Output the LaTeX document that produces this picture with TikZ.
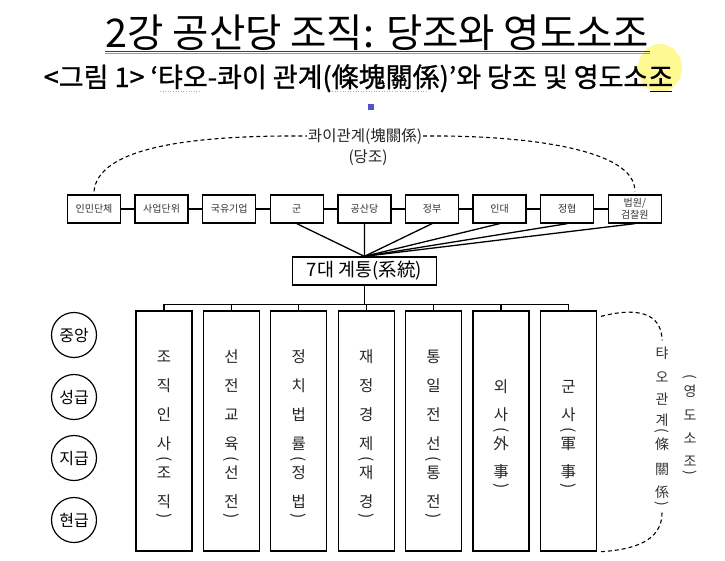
\documentclass[tikz,border=0pt]{standalone}
\usepackage{graphicx}
\usepackage{fontspec}
\setmainfont{Noto Sans CJK KR}
\newfontfamily\subfont[FakeBold=1]{Noto Sans CJK KR}
\newcommand\lpar{\rotatebox[origin=c]{-90}{(}}
\newcommand\rpar{\rotatebox[origin=c]{-90}{)}}
\tikzset{
  topbox/.style={draw, line width=1.3pt, minimum width=53pt, minimum height=28pt, inner sep=1pt,
    font=\fontsize{10}{12}\selectfont, text=black!80, align=center},
  tallbox/.style={draw, line width=1.3pt, minimum width=56pt, minimum height=240pt, inner sep=0pt},
  sysbox/.style={draw, line width=1.3pt, minimum width=144pt, minimum height=28pt, inner sep=0pt,
    font=\fontsize{18.5}{18.5}\selectfont},
  lvl/.style={draw, circle, line width=1.2pt, minimum size=45pt, inner sep=0pt,
    font=\fontsize{16}{16}\selectfont},
  conn/.style={line width=1.3pt},
  dcurve/.style={line width=1.1pt, dash pattern=on 4pt off 3pt},
  vch/.style={inner sep=0pt, font=\fontsize{15.5}{15.5}\selectfont, text=black!85},
  vsm/.style={inner sep=0pt, font=\fontsize{14}{14}\selectfont, text=black!80},
  lbl/.style={inner sep=1pt, font=\fontsize{15.5}{15.5}\selectfont, text=black!85},
}
\newcommand\vcolumn[4]{%
  \foreach \yy/\cc [count=\k] in {#4} \node[#3] (#1-\k) at (#2,\yy) {\cc};}
\begin{document}
\begin{tikzpicture}[x=1pt,y=-1pt]
\useasboundingbox (0,0) rectangle (725,560);
\fill[white] (0,0) rectangle (725,560);

% yellow cursor highlight
\fill[yellow!70, opacity=0.6] (660,68) ellipse (22 and 24);

% title
\node[anchor=base, inner sep=0pt, font=\fontsize{39.5}{42}\selectfont] (title) at (377.5,47) {2강 공산당 조직: 당조와 영도소조};
\draw[black!75, line width=1pt] (title.base west) ++(0,4) coordinate (ul1) -- (ul1 -| title.base east);
\draw[black!40, line width=1pt] (title.base west) ++(0,6.5) coordinate (ul2) -- (ul2 -| title.base east);

% subtitle
\node[anchor=base, inner sep=0pt, font=\subfont\fontsize{27}{28}\selectfont] (sub) at (358.5,87) {<그림 1> ‘탸오-콰이 관계(條塊關係)’와 당조 및 영도소조};
\draw[orange!80, line width=0.6pt, dotted] (160,91) -- (201,91);
\draw[orange!80, line width=0.6pt, dotted] (327,91) -- (426,91);
\draw[black, line width=0.8pt] (650,91) -- (672,91);

% blue marker
\fill[blue!60!white!80!black] (368,104) rectangle (374,110);

% top row
\foreach \t [count=\i] in {인민단체,사업단위,국유기업,군,공산당,정부,인대,정협,{법원/\\검찰원}}
  \node[topbox] (b\i) at ({94+67.6*(\i-1)},209) {\t};
\foreach \i [evaluate=\i as \j using int(\i+1)] in {1,...,8}
  \draw[conn] (b\i.east) -- (b\j.west);

% dashed arc with label
\node[lbl] (kw) at (365,136) {콰이관계(塊關係)};
\node[lbl] (dj) at (368,158) {(당조)};
\draw[dcurve] ([yshift=3pt]b1.north) .. controls (98,150) and (180,135) .. (kw.west);
\draw[dcurve] (kw.east) .. controls (530,135) and (636,150) .. ([yshift=3pt]b9.north);

% 7 systems box
\node[sysbox] (sys) at (364.4,271) {7대 계통(系統)};
\foreach \i in {4,...,9}
  \draw[conn] (b\i.south) -- (sys.north);

% tall boxes
\foreach \i in {1,...,7}
  \node[tallbox] (t\i) at ({164+67.4*(\i-1)},431) {};
\draw[conn] (t1.north) -- ++(0,-6) coordinate (bl) -- (bl -| t7.north) -- (t7.north);
\foreach \i in {2,...,6}
  \draw[conn] (t\i.north) -- (t\i.north |- bl);
\draw[conn] (sys.south) -- (sys.south |- bl);

% vertical texts
\vcolumn{c1}{164}{vch}{357/조,386/직,415/인,444/사,460/\lpar,473/조,502/직,517/\rpar}
\vcolumn{c2}{231.4}{vch}{357/선,386/전,415/교,444/육,460/\lpar,473/선,502/전,517/\rpar}
\vcolumn{c3}{298.8}{vch}{357/정,386/치,415/법,444/률,460/\lpar,473/정,502/법,517/\rpar}
\vcolumn{c4}{366.2}{vch}{357/재,386/정,415/경,444/제,460/\lpar,473/재,502/경,517/\rpar}
\vcolumn{c5}{433.6}{vch}{357/통,386/일,415/전,444/선,460/\lpar,473/통,502/전,517/\rpar}
\vcolumn{c6}{501}{vch}{387/외,415/사,431/\lpar,444/外,472/事,487/\rpar}
\vcolumn{c7}{568.4}{vch}{387/군,415/사,431/\lpar,444/軍,472/事,487/\rpar}

% level circles
\foreach \t/\yy [count=\i] in {중앙/335,성급/397,지급/458,현급/520}
  \node[lvl] (l\i) at (74,\yy) {\t};

% right bracket and labels
\vcolumn{r1}{662}{vsm}{353/탸,377/오,399/관,420/계,432/\lpar,444/條,469/關,492/係,505/\rpar}
\vcolumn{r2}{690}{vsm}{378/\lpar,391/영,415/도,438/소,461/조,474/\rpar}
\draw[dcurve] ([xshift=4pt,yshift=-6pt]t7.north east) .. controls (645,305) and (662,318) .. ([yshift=6pt]r1-1.north);
\draw[dcurve] ([yshift=-4pt]r1-9.south) .. controls (662,535) and (645,549) .. ([xshift=4pt]t7.south east);
\end{tikzpicture}
\end{document}
